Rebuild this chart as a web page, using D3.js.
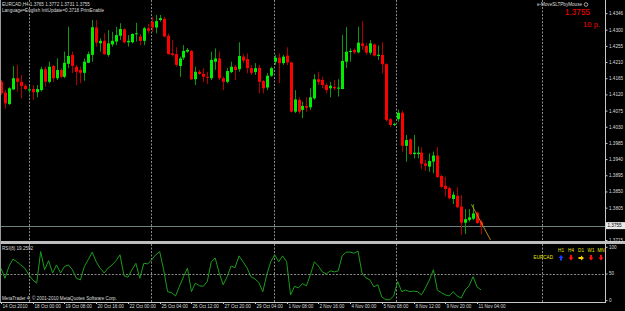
<!DOCTYPE html>
<html><head><meta charset="utf-8">
<script src="https://cdn.jsdelivr.net/npm/d3@7"></script>
<style>html,body{margin:0;padding:0;background:#000;overflow:hidden}text{font-family:"Liberation Sans",Arial,sans-serif}</style>
</head><body><svg id="c" width="625" height="311"></svg>
<script>
// ---------- data ----------
const headerLine1 = "EURCAD,H4  1.3765 1.3772 1.3731 1.3755";
const headerLine2 = "Language=English  InitUpdate=0.3718  PrintEnable";
const opens = [1.4155,1.4125,1.4093,1.4134,1.4165,1.4155,1.4144,1.4131,1.4135,1.4126,
1.4132,1.4190,1.4155,1.4199,1.4165,1.4188,1.4169,1.4205,1.4230,1.4197,
1.4188,1.4180,1.4208,1.4230,1.4306,1.4262,1.4269,1.4230,1.4259,1.4267,
1.4283,1.4301,1.4265,1.4265,1.4288,1.4281,1.4269,1.4304,1.4322,1.4306,
1.4327,1.4330,1.4283,1.4234,1.4232,1.4199,1.4222,1.4239,1.4241,1.4162,
1.4183,1.4177,1.4169,1.4165,1.4211,1.4220,1.4165,1.4155,1.4182,1.4197,
1.4190,1.4225,1.4218,1.4193,1.4182,1.4194,1.4157,1.4139,1.4172,1.4211,
1.4222,1.4207,1.4228,1.4209,1.4072,1.4105,1.4077,1.4088,1.4084,1.4109,
1.4162,1.4160,1.4146,1.4137,1.4141,1.4136,1.4135,1.4211,1.4238,1.4244,
1.4237,1.4262,1.4255,1.4236,1.4259,1.4227,1.4230,1.4204,1.4051,1.4036,
1.4051,1.4069,1.3977,1.3995,1.3954,1.3954,1.3958,1.3928,1.3919,1.3933,
1.3950,1.3893,1.3866,1.3859,1.3829,1.3838,1.3808,1.3763,1.3771,1.3774,
1.3791,1.3765];
const highs = [1.4160,1.4132,1.4140,1.4199,1.4202,1.4174,1.4149,1.4143,1.4146,1.4146,
1.4197,1.4197,1.4211,1.4202,1.4220,1.4193,1.4239,1.4308,1.4239,1.4202,
1.4197,1.4220,1.4239,1.4327,1.4327,1.4276,1.4290,1.4299,1.4294,1.4308,
1.4318,1.4304,1.4285,1.4290,1.4319,1.4288,1.4308,1.4316,1.4336,1.4341,
1.4341,1.4336,1.4290,1.4271,1.4251,1.4225,1.4257,1.4249,1.4244,1.4197,
1.4188,1.4193,1.4183,1.4239,1.4248,1.4239,1.4169,1.4193,1.4211,1.4202,
1.4265,1.4232,1.4234,1.4202,1.4207,1.4202,1.4160,1.4179,1.4197,1.4230,
1.4234,1.4230,1.4251,1.4211,1.4132,1.4112,1.4100,1.4112,1.4137,1.4176,
1.4183,1.4169,1.4151,1.4155,1.4160,1.4162,1.4285,1.4307,1.4248,1.4248,
1.4308,1.4324,1.4262,1.4271,1.4262,1.4256,1.4265,1.4207,1.4054,1.4041,
1.4077,1.4075,1.4007,1.3998,1.4007,1.3975,1.3973,1.3938,1.3956,1.3961,
1.3973,1.3896,1.3891,1.3863,1.3850,1.3862,1.3840,1.3801,1.3801,1.3815,
1.3794,1.3772];
const lows = [1.4118,1.4080,1.4091,1.4132,1.4128,1.4109,1.4132,1.4123,1.4105,1.4112,
1.4128,1.4141,1.4151,1.4155,1.4160,1.4165,1.4165,1.4193,1.4179,1.4146,
1.4151,1.4158,1.4207,1.4211,1.4253,1.4239,1.4230,1.4225,1.4253,1.4257,
1.4271,1.4262,1.4253,1.4262,1.4267,1.4257,1.4257,1.4290,1.4294,1.4290,
1.4322,1.4279,1.4230,1.4225,1.4197,1.4169,1.4216,1.4236,1.4160,1.4146,
1.4174,1.4155,1.4149,1.4160,1.4188,1.4160,1.4132,1.4151,1.4179,1.4160,
1.4183,1.4207,1.4179,1.4174,1.4174,1.4123,1.4123,1.4132,1.4169,1.4202,
1.4151,1.4202,1.4202,1.4070,1.4068,1.4066,1.4054,1.4072,1.4077,1.4105,
1.4146,1.4137,1.4123,1.4112,1.4132,1.4114,1.4134,1.4193,1.4211,1.4232,
1.4234,1.4244,1.4230,1.4230,1.4225,1.4216,1.4179,1.4044,1.4029,1.4032,
1.4044,1.3961,1.3933,1.3952,1.3942,1.3942,1.3912,1.3907,1.3905,1.3901,
1.3888,1.3859,1.3836,1.3828,1.3815,1.3803,1.3729,1.3732,1.3766,1.3771,
1.3760,1.3731];
const closes = [1.4123,1.4095,1.4137,1.4165,1.4155,1.4143,1.4135,1.4134,1.4126,1.4135,
1.4190,1.4155,1.4197,1.4165,1.4188,1.4169,1.4208,1.4227,1.4199,1.4183,
1.4180,1.4211,1.4232,1.4307,1.4264,1.4269,1.4232,1.4262,1.4269,1.4285,
1.4302,1.4265,1.4269,1.4288,1.4290,1.4269,1.4304,1.4297,1.4306,1.4324,
1.4332,1.4281,1.4232,1.4230,1.4202,1.4220,1.4241,1.4244,1.4162,1.4183,
1.4177,1.4169,1.4167,1.4216,1.4220,1.4165,1.4155,1.4185,1.4197,1.4188,
1.4227,1.4214,1.4193,1.4180,1.4193,1.4155,1.4137,1.4172,1.4193,1.4222,
1.4207,1.4225,1.4209,1.4072,1.4106,1.4072,1.4088,1.4083,1.4112,1.4162,
1.4155,1.4146,1.4132,1.4144,1.4137,1.4139,1.4213,1.4239,1.4241,1.4237,
1.4264,1.4255,1.4236,1.4262,1.4228,1.4230,1.4204,1.4049,1.4035,1.4038,
1.4069,1.3977,1.3993,1.3954,1.3958,1.3958,1.3927,1.3921,1.3935,1.3950,
1.3890,1.3863,1.3857,1.3831,1.3841,1.3806,1.3763,1.3773,1.3778,1.3789,
1.3762,1.3755];
const rsiName = "RSI(8) 19.2592";
const rsiValues = [60,41,63,77,72,66,60,48,38,32,
91,57,74,51,66,51,63,66,57,41,
38,63,76,90,72,60,51,60,66,74,
85,46,43,57,69,41,69,68,76,85,
91,57,16,14,8,26,44,60,16,32,
27,26,35,72,79,51,29,44,64,61,
83,72,61,44,40,33,16,48,72,85,
72,83,72,10,26,23,31,27,48,72,
64,53,49,55,53,55,83,90,90,88,
92,51,42,38,25,29,6,1,1,8,
35,16,19,16,17,16,10,23,38,57,
19,14,10,8,16,8,4,19,27,44,
25,19.26];
const priceTicks = ["1.4346","1.4300","1.4255","1.4210","1.4165","1.4120","1.4075","1.4030","1.3985","1.3940","1.3895","1.3850","1.3805","1.3715"];
const rsiTicks = ["100","50","0"];
const rsiLevel = 50;
const timeLabels = ["14 Oct 2010","18 Oct 00:00","19 Oct 08:00","20 Oct 16:00","22 Oct 00:00","25 Oct 04:00","26 Oct 12:00","27 Oct 20:00","29 Oct 04:00","1 Nov 08:00","2 Nov 16:00","4 Nov 00:00","5 Nov 08:00","8 Nov 12:00","9 Nov 20:00","11 Nov 04:00"];
const barsPerTimeLabel = 8;
const bidPrice = 1.3755;
const bidLabel = "1.3755";
const infoPrice = "1.3755";
const infoPips = "10 p.";
const expertName = "e-MoveSLTPbyMouse";
const trendLine = [{bar:118.6, price:1.3814},{bar:123.4, price:1.3715}];
const dashPeriods = ["H1","H4","D1","W1","MN"];
const dashDirs = ["up","down","right","down","down"];
const dashSymbol = "EURCAD";
const copyright = "MetaTrader 4, \u00a9 2001-2010 MetaQuotes Software Corp.";

// ---------- layout ----------
const W = 625, H = 311, plotR = 605;
const mainTop = 0, mainBot = 241, rsiTop = 244, rsiBot = 302;
const gridX = [29.5, 151.5, 274.5, 396.5, 542.5];
const FS = 4.6;

const svg = d3.select("#c");
svg.append("rect").attr("width", W).attr("height", H).attr("fill", "#000");

const n = closes.length;
const x = d3.scaleLinear().domain([0, n - 1]).range([1, 481]);
const y = d3.scaleLinear().domain([1.3715, 1.4300]).range([240, 29.7]);
const yr = d3.scaleLinear().domain([0, 100]).range([300.2, 246.8]);

const bars = d3.range(n).map(i => ({i, o: opens[i], h: highs[i], l: lows[i], c: closes[i]}));

// clip regions
const defs = svg.append("defs");
defs.append("clipPath").attr("id","mainClip").append("rect").attr("x",0).attr("y",mainTop).attr("width",plotR).attr("height",mainBot-mainTop);
defs.append("clipPath").attr("id","rsiClip").append("rect").attr("x",0).attr("y",rsiTop).attr("width",plotR).attr("height",rsiBot-rsiTop);

// grid verticals
const grid = svg.append("g").attr("stroke","#8a8a8a").attr("stroke-width",1).attr("stroke-dasharray","2,1.5");
gridX.forEach(gx => {
  grid.append("line").attr("x1",gx).attr("x2",gx).attr("y1",mainTop).attr("y2",mainBot);
  grid.append("line").attr("x1",gx).attr("x2",gx).attr("y1",rsiTop).attr("y2",rsiBot);
});

// bid line
svg.append("line").attr("x1",0).attr("x2",plotR).attr("y1",Math.round(y(bidPrice))+0.5).attr("y2",Math.round(y(bidPrice))+0.5)
  .attr("stroke","#6f8080").attr("stroke-width",1);

// candles
const main = svg.append("g").attr("clip-path","url(#mainClip)");
const cx = d => Math.round(x(d.i)) + 0.5;
main.selectAll("line.wick").data(bars).join("line").attr("class","wick")
  .attr("x1",cx).attr("x2",cx).attr("y1",d=>y(d.h)).attr("y2",d=>y(d.l))
  .attr("stroke",d=>d.c>=d.o?"#0b9a0b":"#b00000").attr("stroke-width",1);
main.selectAll("rect.body").data(bars).join("rect").attr("class","body")
  .attr("x",d=>cx(d)-1.5).attr("width",3)
  .attr("y",d=>Math.min(y(d.o),y(d.c)))
  .attr("height",d=>Math.max(1,Math.abs(y(d.o)-y(d.c))))
  .attr("fill",d=>d.c>=d.o?"#00ee00":"#ff0000");

// trend line
main.append("line").attr("x1",x(trendLine[0].bar)).attr("y1",y(trendLine[0].price))
  .attr("x2",x(trendLine[1].bar)).attr("y2",y(trendLine[1].price))
  .attr("stroke","#b08a1a").attr("stroke-width",1);

// separator
svg.append("rect").attr("x",0).attr("y",mainBot).attr("width",W).attr("height",rsiTop-mainBot).attr("fill","#bdbdbd");

// borders
svg.append("line").attr("x1",0.5).attr("x2",0.5).attr("y1",0).attr("y2",rsiBot).attr("stroke","#9a9a9a");
svg.append("line").attr("x1",plotR+0.5).attr("x2",plotR+0.5).attr("y1",0).attr("y2",rsiBot).attr("stroke","#c8c8c8");
svg.append("line").attr("x1",0).attr("x2",plotR+1).attr("y1",rsiBot+0.5).attr("y2",rsiBot+0.5).attr("stroke","#c8c8c8");

// price axis
const pa = svg.append("g").attr("transform",`translate(${plotR+0.5},0)`)
  .call(d3.axisRight(y).tickValues(priceTicks.map(Number)).tickFormat(d3.format(".4f")).tickSize(2).tickPadding(1.5));
pa.select(".domain").remove();
pa.selectAll("line").attr("stroke","#c8c8c8");
pa.selectAll("text").attr("fill","#dcdcdc").attr("font-size",FS).attr("font-family","Liberation Sans, Arial, sans-serif");

// bid label box
const by = y(bidPrice);
svg.append("rect").attr("x",plotR+1).attr("y",by-3.5).attr("width",19).attr("height",7).attr("fill","#e8e8e8");
svg.append("text").attr("x",plotR+2.5).attr("y",by).attr("dy","0.35em").attr("font-size",FS).attr("fill","#000").text(bidLabel);

// RSI panel
const rsiG = svg.append("g").attr("clip-path","url(#rsiClip)");
rsiG.append("line").attr("x1",0).attr("x2",plotR).attr("y1",Math.round(yr(rsiLevel))+0.5).attr("y2",Math.round(yr(rsiLevel))+0.5)
  .attr("stroke","#8a8a8a").attr("stroke-dasharray","2,1.5");
rsiG.append("path").datum(rsiValues).attr("fill","none").attr("stroke","#1c9c1c").attr("stroke-width",1)
  .attr("d", d3.line().x((d,i)=>x(i)).y(d=>yr(d)));
const ra = svg.append("g").attr("transform",`translate(${plotR+0.5},0)`)
  .call(d3.axisRight(yr).tickValues(rsiTicks.map(Number)).tickFormat(d3.format("d")).tickSize(2).tickPadding(1.5));
ra.select(".domain").remove();
ra.selectAll("line").attr("stroke","#c8c8c8");
ra.selectAll("text").attr("fill","#dcdcdc").attr("font-size",FS).attr("font-family","Liberation Sans, Arial, sans-serif");
svg.append("text").attr("x",2).attr("y",rsiTop+6).attr("font-size",FS).attr("fill","#dcdcdc").text(rsiName);
svg.append("text").attr("x",2).attr("y",rsiBot-2.5).attr("font-size",FS).attr("fill","#dcdcdc").text(copyright);

// time axis
const tickIdx = timeLabels.map((t,j)=>j*barsPerTimeLabel);
const ta = svg.append("g");
tickIdx.forEach((b,j)=>{
  const tx = Math.round(x(b))+0.5;
  ta.append("line").attr("x1",tx).attr("x2",tx).attr("y1",rsiBot).attr("y2",rsiBot+2).attr("stroke","#c8c8c8");
  ta.append("text").attr("x",tx+1).attr("y",rsiBot+6).attr("font-size",FS).attr("fill","#dcdcdc").text(timeLabels[j]);
});

// header texts
svg.append("text").attr("x",2).attr("y",6).attr("font-size",FS).attr("fill","#dcdcdc").text(headerLine1);
svg.append("text").attr("x",2).attr("y",12).attr("font-size",FS).attr("fill","#dcdcdc").text(headerLine2);
svg.append("text").attr("x",582).attr("y",6).attr("text-anchor","end").attr("font-size",FS).attr("fill","#dcdcdc").text(expertName);
svg.append("circle").attr("cx",586).attr("cy",4.5).attr("r",1.8).attr("fill","none").attr("stroke","#dcdcdc").attr("stroke-width",0.7);
svg.append("text").attr("x",590).attr("y",15).attr("text-anchor","end").attr("font-size",8.2).attr("fill","#ff0000").text(infoPrice);
svg.append("text").attr("x",600).attr("y",27).attr("text-anchor","end").attr("font-size",7.6).attr("fill","#ff0000").text(infoPips);

// dashboard
const dashX = d3.scalePoint().domain(dashPeriods).range([561,601]);
dashPeriods.forEach((p,i)=>{
  svg.append("text").attr("x",dashX(p)).attr("y",252).attr("text-anchor","middle").attr("font-size",FS).attr("fill","#e6e600").text(p);
  const ax = dashX(p), ay = 258;
  const dir = dashDirs[i];
  const col = dir==="up" ? "#1a3cff" : dir==="right" ? "#ffd000" : "#ff1010";
  let path;
  if (dir==="up") path = `M${ax},${ay-3} L${ax+2.5},${ay} L${ax+1},${ay} L${ax+1},${ay+2.5} L${ax-1},${ay+2.5} L${ax-1},${ay} L${ax-2.5},${ay} Z`;
  else if (dir==="down") path = `M${ax},${ay+2.5} L${ax+2.5},${ay-0.5} L${ax+1},${ay-0.5} L${ax+1},${ay-3} L${ax-1},${ay-3} L${ax-1},${ay-0.5} L${ax-2.5},${ay-0.5} Z`;
  else path = `M${ax+3},${ay} L${ax},${ay-2.5} L${ax},${ay-1} L${ax-2.5},${ay-1} L${ax-2.5},${ay+1} L${ax},${ay+1} L${ax},${ay+2.5} Z`;
  svg.append("path").attr("d",path).attr("fill",col);
});
svg.append("text").attr("x",553).attr("y",258.5).attr("text-anchor","end").attr("font-size",FS).attr("fill","#e6e600").text(dashSymbol);
</script></body></html>
